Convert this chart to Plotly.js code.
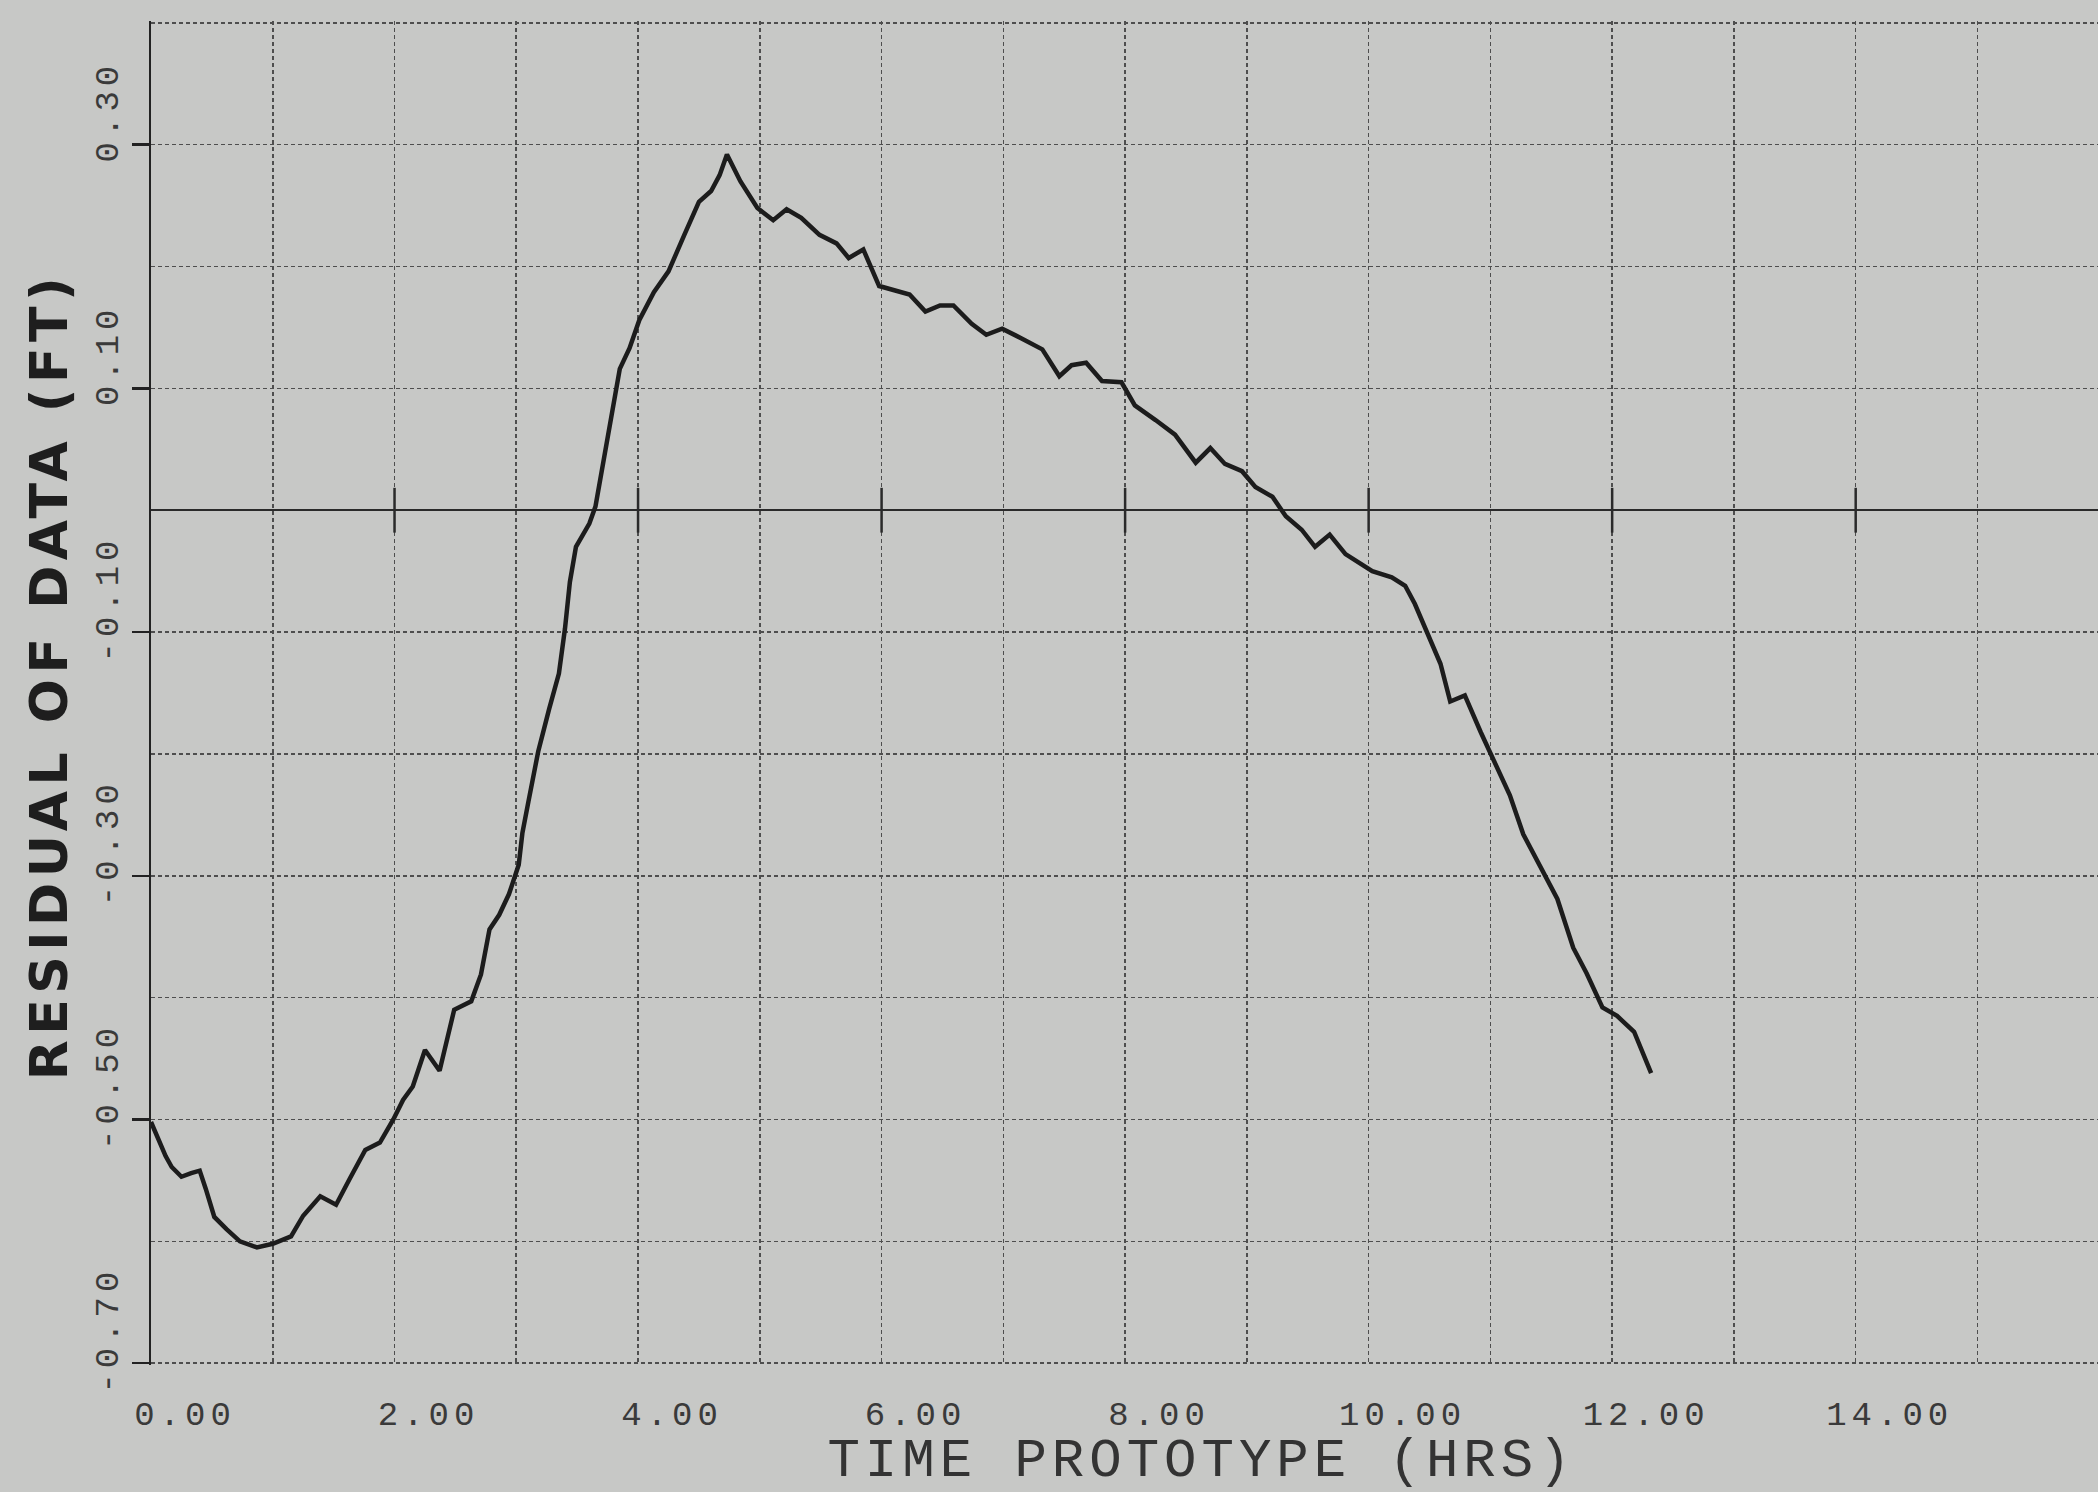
<!DOCTYPE html>
<html>
<head>
<meta charset="utf-8">
<script src="https://cdn.plot.ly/plotly-3.0.1.min.js"></script>
<style>
html, body { margin: 0; padding: 0; background: #c7c8c6; }
#chart { width: 2098px; height: 1492px; }
g.xtick text, g.ytick text { letter-spacing: 5px; }
text.xtitle { letter-spacing: 5px; translate: 77px 0; }
text.ytitle { letter-spacing: 5.5px; translate: 8px -17px; }
</style>
</head>
<body>
<div id="chart"></div>
<script>
// Time (hours) and residual (ft)
const timeHrs = [0.00, 0.12, 0.17, 0.25, 0.33, 0.40, 0.45, 0.52, 0.62, 0.73, 0.87, 1.00, 1.15, 1.25, 1.39, 1.52,
  1.63, 1.76, 1.88, 1.99, 2.07, 2.15, 2.25, 2.37, 2.49, 2.63, 2.71, 2.78, 2.86, 2.94, 3.02, 3.05, 3.10, 3.18,
  3.27, 3.35, 3.40, 3.44, 3.49, 3.60, 3.65, 3.74, 3.85, 3.93, 4.01, 4.13, 4.25, 4.38, 4.50, 4.60, 4.67, 4.73,
  4.84, 4.98, 5.11, 5.22, 5.34, 5.49, 5.63, 5.73, 5.85, 5.98, 6.09, 6.23, 6.36, 6.48, 6.59, 6.74, 6.86, 6.99,
  7.15, 7.32, 7.46, 7.56, 7.68, 7.81, 7.97, 8.08, 8.25, 8.41, 8.58, 8.70, 8.82, 8.96, 9.07, 9.21, 9.32, 9.45,
  9.56, 9.68, 9.81, 10.03, 10.19, 10.30, 10.38, 10.48, 10.59, 10.67, 10.79, 10.92, 11.03, 11.16, 11.27, 11.44,
  11.55, 11.68, 11.79, 11.92, 12.04, 12.18, 12.32];
const residualFt = [-0.502, -0.530, -0.539, -0.547, -0.544, -0.542, -0.557, -0.580, -0.590, -0.600, -0.605, -0.602,
  -0.596, -0.579, -0.563, -0.570, -0.549, -0.525, -0.519, -0.500, -0.484, -0.473, -0.443, -0.460, -0.410, -0.403,
  -0.381, -0.344, -0.332, -0.315, -0.291, -0.265, -0.239, -0.198, -0.163, -0.134, -0.097, -0.059, -0.030, -0.011,
  0.003, 0.056, 0.116, 0.133, 0.156, 0.179, 0.196, 0.226, 0.253, 0.262, 0.275, 0.292, 0.270, 0.248, 0.238, 0.247,
  0.240, 0.226, 0.219, 0.207, 0.214, 0.184, 0.181, 0.177, 0.163, 0.168, 0.168, 0.153, 0.144, 0.149, 0.141, 0.132,
  0.110, 0.119, 0.121, 0.106, 0.105, 0.086, 0.074, 0.062, 0.039, 0.051, 0.038, 0.032, 0.019, 0.011, -0.005, -0.016,
  -0.030, -0.020, -0.036, -0.050, -0.055, -0.062, -0.077, -0.101, -0.126, -0.157, -0.152, -0.182, -0.205, -0.234,
  -0.266, -0.298, -0.319, -0.359, -0.380, -0.408, -0.415, -0.428, -0.462];

const xTickVals = [0, 2, 4, 6, 8, 10, 12, 14];
const xTickText = ["0.00", "2.00", "4.00", "6.00", "8.00", "10.00", "12.00", "14.00"];
const yTickVals = [-0.7, -0.5, -0.3, -0.1, 0.1, 0.3];
const yTickText = ["-0.70", "-0.50", "-0.30", "-0.10", "0.10", "0.30"];
const zeroLineMarks = [2, 4, 6, 8, 10, 12, 14];

const xTitle = "TIME PROTOTYPE (HRS)";
const yTitle = "RESIDUAL OF DATA (FT)";

const bg = "#c7c8c6";
const gridColor = "#4e4e4e";
const gridDash = "4px,3px";
const ink = "#1c1c1c";
const labelFont = { family: "Liberation Mono, DejaVu Sans Mono, monospace", size: 34, color: "#3a3a3a" };

const traces = [
  {
    type: "scatter",
    mode: "lines",
    x: timeHrs,
    y: residualFt,
    line: { color: ink, width: 4.5 },
    hoverinfo: "skip"
  },
  {
    type: "scatter",
    mode: "markers",
    x: zeroLineMarks,
    y: zeroLineMarks.map(() => 0),
    marker: { symbol: "line-ns", size: 32, line: { color: "#2a2a2a", width: 2.5 } },
    hoverinfo: "skip"
  }
];

const layout = {
  width: 2098,
  height: 1492,
  paper_bgcolor: bg,
  plot_bgcolor: bg,
  showlegend: false,
  margin: { l: 151, r: 0, t: 21, b: 127, pad: 0 },
  xaxis: {
    range: [0, 15.99],
    tickmode: "array",
    tickvals: xTickVals,
    ticktext: xTickText,
    ticks: "",
    tickfont: labelFont,
    ticklabelshift: 34,
    ticklabelstandoff: 25,
    showgrid: true,
    gridcolor: gridColor,
    griddash: gridDash,
    gridwidth: 1.6,
    minor: { dtick: 1, tick0: 0, showgrid: true, gridcolor: gridColor, griddash: gridDash, gridwidth: 1.6, ticks: "" },
    zeroline: false,
    showline: false,
    automargin: false,
    title: {
      text: xTitle,
      font: { family: "Liberation Mono, DejaVu Sans Mono, monospace", size: 54, color: "#333333" },
      standoff: 14
    }
  },
  yaxis: {
    range: [-0.7015, 0.4015],
    tickmode: "array",
    tickvals: yTickVals,
    ticktext: yTickText,
    ticks: "outside",
    ticklen: 17,
    tickwidth: 2.5,
    tickcolor: "#222222",
    tickangle: -90,
    tickfont: labelFont,
    ticklabelshift: -28,
    showgrid: true,
    gridcolor: gridColor,
    griddash: gridDash,
    gridwidth: 1.6,
    minor: { dtick: 0.1, tick0: 0, showgrid: true, gridcolor: gridColor, griddash: gridDash, gridwidth: 1.6, ticks: "" },
    zeroline: true,
    zerolinecolor: "#2a2a2a",
    zerolinewidth: 2.5,
    showline: true,
    linecolor: "#222222",
    linewidth: 2.5,
    automargin: false,
    title: {
      text: yTitle,
      font: { family: "DejaVu Sans, sans-serif", size: 52, color: "#1e1e1e", weight: "bold" },
      standoff: 14
    }
  }
};

Plotly.newPlot("chart", traces, layout, { displayModeBar: false, staticPlot: true });
</script>
</body>
</html>
